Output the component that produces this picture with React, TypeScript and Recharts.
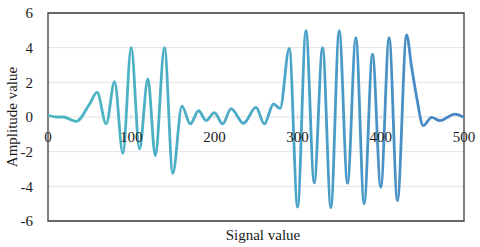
import React from "react";
import {
  LineChart,
  Line,
  XAxis,
  YAxis,
  CartesianGrid,
  ReferenceArea,
} from "recharts";

// mostly at the peaks and troughs
const signal = [
  0, 10, 18, 34, 50, 59, 70, 80, 90, 100, 110, 120, 129, 140, 150, 161, 171,
  181, 190, 200, 210, 220, 235, 250, 260, 271, 279, 290, 300, 310, 320, 330,
  340, 350, 360, 370, 380, 390, 400, 410, 420, 431, 437, 443, 451, 461, 471,
  489, 500,
];
const amplitude = [
  0.1, 0.0, 0.0, -0.25, 0.75, 1.42, -0.4, 2.04, -2.1, 4.0, -1.85, 2.2, -2.23,
  4.0, -3.25, 0.63, -0.4, 0.36, -0.21, 0.25, -0.4, 0.48, -0.36, 0.56, -0.4,
  0.75, 0.5, 3.96, -5.2, 4.98, -3.8, 4.0, -5.23, 4.98, -3.83, 4.58, -5.0, 3.62,
  -4.06, 4.58, -4.83, 4.73, 2.9, 1.17, -0.5, -0.02, -0.21, 0.17, -0.02,
];
const xTicks = [0, 100, 200, 300, 400, 500];
const yTicks = [-6, -4, -2, 0, 2, 4, 6];

const data = signal.map((s, i) => ({ signal: s, amplitude: amplitude[i] }));

const W = 480;
const H = 247;
const margin = { top: 13, right: 16, bottom: 0, left: 0 };
const X_AXIS_H = 26;
const plotH = H - margin.top - margin.bottom - X_AXIS_H;
const font = "'Liberation Serif', 'Times New Roman', serif";

// x labels sit under the zero line, not under the frame
const ZeroLineTick = (props: any) => {
  const { x, y, payload } = props;
  const zeroY = y - plotH / 2;
  return (
    <g>
      {payload.value !== 0 && payload.value !== 500 && (
        <line x1={x} x2={x} y1={zeroY - 4} y2={zeroY} stroke="#d0d0d0" />
      )}
      <text
        x={x}
        y={zeroY + 23}
        textAnchor="middle"
        fill="#1a1a1a"
        fontSize={15}
        fontFamily={font}
      >
        {payload.value}
      </text>
    </g>
  );
};

export default function App() {
  return (
    <div style={{ position: "absolute", left: 0, top: 0 }}>
      <LineChart width={W} height={H} data={data} margin={margin}>
        <defs>
          <linearGradient id="waveGrad" x1="0" y1="0" x2="1" y2="0">
            <stop offset="0%" stopColor="#4db7c1" />
            <stop offset="55%" stopColor="#4aa7c8" />
            <stop offset="100%" stopColor="#4783c4" />
          </linearGradient>
        </defs>
        <CartesianGrid vertical={false} stroke="#e2e2e2" />
        <XAxis
          dataKey="signal"
          type="number"
          domain={[0, 500]}
          ticks={xTicks}
          height={X_AXIS_H}
          axisLine={false}
          tickLine={false}
          tickSize={0}
          tick={<ZeroLineTick />}
          interval={0}
          label={{
            value: "Signal value",
            position: "insideBottom",
            offset: 7,
            dx: 7,
            fill: "#1a1a1a",
            fontSize: 15,
            fontFamily: font,
          }}
        />
        <YAxis
          type="number"
          domain={[-6, 6]}
          ticks={yTicks}
          width={48}
          axisLine={false}
          tickLine={false}
          tickSize={13}
          interval={0}
          tick={{ fill: "#1a1a1a", fontSize: 15, fontFamily: font }}
          label={{
            value: "Amplitude value",
            angle: -90,
            position: "insideLeft",
            offset: 12,
            textAnchor: "middle",
            fill: "#1a1a1a",
            fontSize: 15,
            fontFamily: font,
          }}
        />
        <ReferenceArea
          x1={0}
          x2={500}
          y1={-6}
          y2={6}
          fill="none"
          stroke="#3a3a3a"
          strokeWidth={1.3}
        />
        <Line
          type="monotone"
          dataKey="amplitude"
          stroke="url(#waveGrad)"
          strokeWidth={2.8}
          dot={false}
          activeDot={false}
          isAnimationActive={false}
        />
      </LineChart>
    </div>
  );
}
